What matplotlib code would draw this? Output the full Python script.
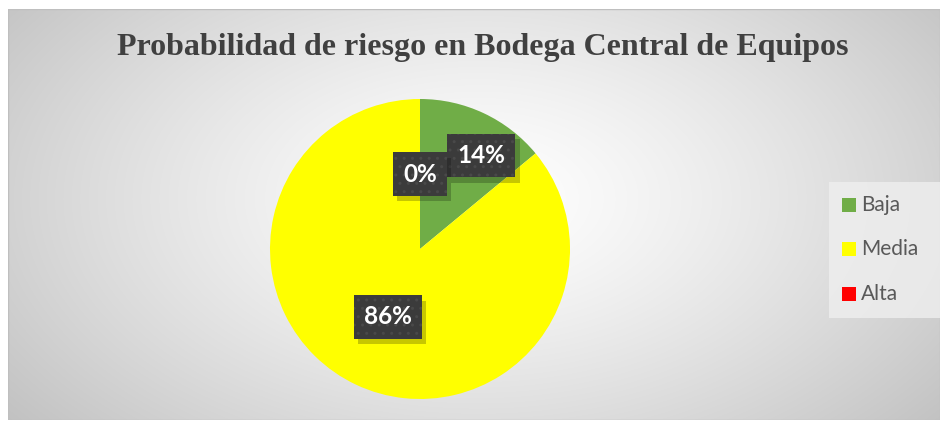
import numpy as np
import matplotlib
matplotlib.use("Agg")
import matplotlib.pyplot as plt
import matplotlib.patheffects as pe
from matplotlib.patches import Rectangle

categories = ["Baja", "Media", "Alta"]
values = [14, 86, 0]
labels_pct = ["14%", "86%", "0%"]
colors = ["#70AD47", "#FFFF00", "#FF0000"]
title = "Probabilidad de riesgo en Bodega Central de Equipos"


class PlainShadow(pe.AbstractPathEffect):
    def __init__(self, offset=(3, -4), color=(0, 0, 0), alpha=0.22):
        super().__init__(offset)
        self._color = color
        self._alpha = alpha

    def draw_path(self, renderer, gc, tpath, affine, rgbFace=None):
        gc0 = renderer.new_gc()
        gc0.copy_properties(gc)
        gc0.set_hatch(None)
        gc0.set_linewidth(0)
        gc0.set_alpha(self._alpha)
        renderer.draw_path(gc0, tpath, self._offset_transform(renderer) + affine,
                           self._color)
        gc0.restore()


W, H = 943, 423
fig = plt.figure(figsize=(W / 100, H / 100), dpi=100)
fig.patch.set_facecolor("white")

# background gradient for chart area
bg = fig.add_axes([8 / W, 1 - 420 / H, 932 / W, 411 / H])
bg.set_axis_off()
yy, xx = np.mgrid[0:411, 0:932]
cx, cy = 470, 190
d = np.sqrt(((xx - cx) / 560.0) ** 2 + ((yy - cy) / 330.0) ** 2)
g = 1.0 - 0.22 * np.clip(d, 0, 1.2) ** 1.3
img = np.dstack([g, g, g])
bg.imshow(img, aspect="auto", extent=[0, 1, 0, 1], interpolation="bilinear")
bg.set_xlim(0, 1)
bg.set_ylim(0, 1)
bg.add_patch(Rectangle((0, 0), 1, 1, transform=bg.transAxes, fill=False,
                       ec="#bfbfbf", lw=1))

fig.text(483 / W, 1 - 48 / H, title, ha="center", va="center",
         fontsize=23, fontweight="bold", family="Liberation Serif",
         color="#404040")

# pie
cxp, cyp, r = 420, 249, 150
ax = fig.add_axes([(cxp - r) / W, 1 - (cyp + r) / H, 2 * r / W, 2 * r / H])
wedges, _ = ax.pie(values, colors=colors, startangle=90, counterclock=False,
                   radius=1.0, wedgeprops=dict(linewidth=0))
ax.set_xlim(-1, 1)
ax.set_ylim(-1, 1)
ax.set_aspect("equal")

# data labels
label_r = [0.745, 0.5, 0.5]
label_dang = [-8, 0, 0]
for w, lab, rr, da in zip(wedges, labels_pct, label_r, label_dang):
    ang = np.deg2rad((w.theta1 + w.theta2) / 2 + da)
    x, y = rr * np.cos(ang), rr * np.sin(ang)
    t = ax.text(x, y, lab, color="white", ha="center", va="center",
                fontsize=17.5, fontweight="bold", family="Lato",
                bbox=dict(boxstyle="square,pad=0.42", fc="#3b3b3b",
                          ec="#494949", lw=0, hatch=".."))
    t.get_bbox_patch().set_path_effects([PlainShadow(), pe.Normal()])

# legend
lg = fig.add_axes([829 / W, 1 - 318 / H, 111 / W, 136 / H])
lg.set_axis_off()
lg.add_patch(Rectangle((0, 0), 1, 1, transform=lg.transAxes, fc="#efefef",
                       ec="none", alpha=0.8))
ys = [205, 249, 294]
for cat, col, yv in zip(categories, colors, ys):
    yf = (318 - yv) / 136
    lg.add_patch(Rectangle((13 / 111, yf - 7 / 136), 14 / 111, 14 / 136,
                           transform=lg.transAxes, fc=col, ec="none"))
    lg.text(32 / 111, yf, cat, transform=lg.transAxes, ha="left", va="center",
            fontsize=15, family="Lato", color="#595959")

fig.savefig("out.png", dpi=100, facecolor="white")
